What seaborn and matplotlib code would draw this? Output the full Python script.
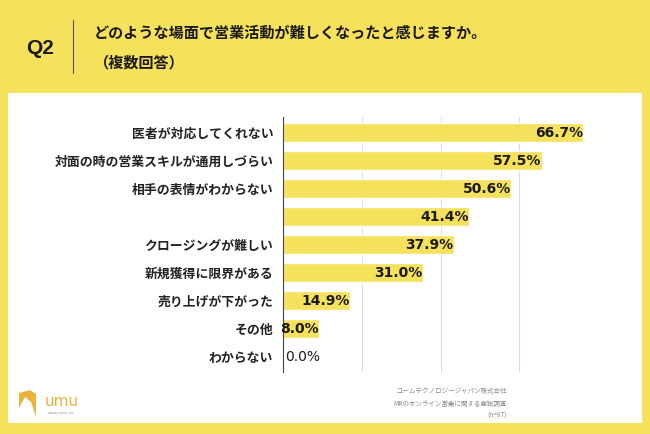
import matplotlib
matplotlib.use("Agg")
import matplotlib.pyplot as plt
import matplotlib.patches as mpatches
import seaborn as sns
import pandas as pd

categories = ["医者が対応してくれない", "対面の時の営業スキルが通用しづらい", "相手の表情がわからない", "",
              "クロージングが難しい", "新規獲得に限界がある", "売り上げが下がった", "その他", "わからない"]
values = [66.7, 57.5, 50.6, 41.4, 37.9, 31.0, 14.9, 8.0, 0.0]
value_labels = ["66.7%", "57.5%", "50.6%", "41.4%", "37.9%", "31.0%", "14.9%", "8.0%", "0.0%"]
title_q = "Q2"
title_line1 = "どのような場面で営業活動が難しくなったと感じますか。"
title_line2 = "（複数回答）"
footer_lines = ["ユームテクノロジージャパン株式会社", "MRのオンライン営業に関する意識調査", "(n=87)"]

sns.set_theme(style="white")
plt.rcParams['font.family'] = ['Noto Sans CJK JP', 'DejaVu Sans']

YELLOW = "#F6E15C"
W, H = 650, 434
fig = plt.figure(figsize=(6.5, 4.34), dpi=100, facecolor=YELLOW)

def fx(x): return x / W
def fy(y): return 1 - y / H

# white panel
fig.patches.append(mpatches.Rectangle((fx(8), fy(423)), fx(642) - fx(8), fy(93) - fy(423),
                                      transform=fig.transFigure, facecolor="white", edgecolor="none", zorder=-5))

ax = fig.add_axes([fx(283), fy(372), fx(598) - fx(283), fy(117) - fy(372)])
ax.set_zorder(5)
ax.set_facecolor("none")
df = pd.DataFrame({"cat": categories, "val": values})
sns.barplot(data=df, y="cat", x="val", order=categories, orient="h", color=YELLOW,
            saturation=1, width=0.7, ax=ax, zorder=2)
ax.set_xlim(0, 70)
ax.set_ylim(8.55, -0.56)
ax.set_xticks([17.5, 35, 52.5, 70])
ax.xaxis.grid(True, color="#dcdcdc", linewidth=0.8, zorder=0)
ax.set_axisbelow(True)
ax.set_xticklabels([])
ax.tick_params(axis="both", length=0)
ax.set_xlabel("")
ax.set_ylabel("")
for s in ["top", "right", "bottom"]:
    ax.spines[s].set_visible(False)
ax.spines["left"].set_color("#444444")
ax.spines["left"].set_linewidth(0.8)
ax.set_yticks(range(len(categories)))
ax.set_yticklabels(categories, fontsize=9.25, fontweight="bold", color="#222222")
ax.tick_params(axis="y", pad=7)

for i, (v, lab) in enumerate(zip(values, value_labels)):
    if v >= 5:
        ax.text(v, i, lab, ha="right", va="center", fontsize=10, fontweight="bold",
                color="#1a1a1a", family=["DejaVu Sans"], zorder=3)
    else:
        ax.text(0.4, i, lab, ha="left", va="center", fontsize=10,
                color="#1a1a1a", family=["DejaVu Sans"], zorder=3)

# header
fig.text(fx(40), fy(49), title_q, ha="center", va="center", fontsize=15, fontweight="bold",
         color="#1a1a1a", family=["Liberation Sans"])
fig.add_artist(plt.Line2D([fx(73), fx(73)], [fy(20), fy(73)], transform=fig.transFigure,
                          color="#555555", linewidth=0.8))
fig.text(fx(94), fy(33), title_line1, ha="left", va="center", fontsize=10.9, fontweight="bold", color="#1a1a1a")
fig.text(fx(94), fy(62), title_line2, ha="left", va="center", fontsize=10.9, fontweight="bold", color="#1a1a1a")

# footer
for k, line in enumerate(footer_lines):
    fig.text(fx(507), fy(391 + 12.5 * k), line, ha="right", va="center", fontsize=4.7, color="#888888")

# logo
LOGO = "#E9B43C"
fig.patches.append(mpatches.Polygon([(fx(19), fy(393)), (fx(30), fy(390)), (fx(36), fy(394)),
                                     (fx(36), fy(417)), (fx(31), fy(402)), (fx(25), fy(397)), (fx(19), fy(408))],
                                    closed=True, transform=fig.transFigure, facecolor=LOGO, edgecolor="none"))
fig.text(fx(45), fy(402), "umu", ha="left", va="center", fontsize=11, color=LOGO, family=["DejaVu Sans"])
fig.text(fx(48), fy(413), "www.umu.co", ha="left", va="center", fontsize=3, color="#999999", family=["DejaVu Sans"])

fig.savefig("out.png", dpi=100, facecolor=YELLOW)
